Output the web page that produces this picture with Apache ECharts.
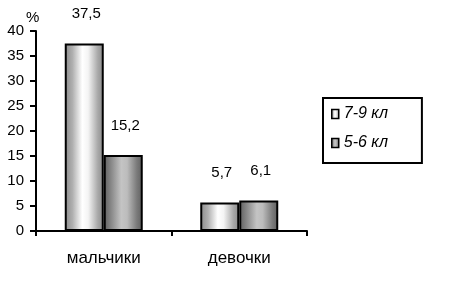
<!DOCTYPE html>
<html>
<head>
<meta charset="utf-8">
<script src="https://cdn.jsdelivr.net/npm/echarts@6/dist/echarts.min.js"></script>
<style>
html,body{margin:0;padding:0;background:#fff;}
#chart{width:471px;height:290px;}
</style>
</head>
<body>
<div id="chart"></div>
<script>
var categories = ['мальчики', 'девочки'];
var seriesNames = ['7-9 кл', '5-6 кл'];
var values79 = [37.5, 5.7];
var values56 = [15.2, 6.1];
var yTicks = [0, 5, 10, 15, 20, 25, 30, 35, 40];

var FONT = 'Liberation Sans, Arial, sans-serif';

function grad(stops) {
  return new echarts.graphic.LinearGradient(0, 0, 1, 0, stops);
}
var grad1 = grad([
  {offset: 0, color: '#8a8a8a'},
  {offset: 0.2, color: '#b0b0b0'},
  {offset: 0.45, color: '#ffffff'},
  {offset: 0.6, color: '#f4f4f4'},
  {offset: 0.85, color: '#a8a8a8'},
  {offset: 1, color: '#8a8a8a'}
]);
var grad2 = grad([
  {offset: 0, color: '#5e5e5e'},
  {offset: 0.2, color: '#8a8a8a'},
  {offset: 0.45, color: '#c4c4c4'},
  {offset: 0.6, color: '#bcbcbc'},
  {offset: 0.85, color: '#7a7a7a'},
  {offset: 1, color: '#5e5e5e'}
]);

function fmt(p) { return String(p.value).replace('.', ','); }

var chart = echarts.init(document.getElementById('chart'), null, {renderer: 'canvas'});
chart.setOption({
  animation: false,
  backgroundColor: '#fff',
  title: {
    text: '%', left: 21, top: 5,
    textStyle: {fontFamily: FONT, fontSize: 15, fontWeight: 'normal', color: '#000'}
  },
  grid: {left: 36, right: 164, top: 31, bottom: 59},
  legend: {
    orient: 'vertical',
    left: 323, top: 98,
    padding: [8, 34, 12, 8],
    itemGap: 13,
    itemWidth: 7, itemHeight: 9,
    itemTextGap: 6,
    icon: 'rect',
    borderColor: '#000', borderWidth: 2,
    itemStyle: {borderColor: '#000', borderWidth: 1.5},
    textStyle: {fontFamily: FONT, fontSize: 16, fontStyle: 'italic', color: '#000'},
    data: seriesNames
  },
  xAxis: {
    type: 'category',
    data: categories,
    axisLine: {lineStyle: {color: '#000', width: 2}},
    axisTick: {show: true, length: 5, lineStyle: {color: '#000', width: 2}},
    axisLabel: {fontFamily: FONT, fontSize: 17, color: '#000', margin: 19},
    splitLine: {show: false}
  },
  yAxis: {
    type: 'value',
    min: 0, max: 40, interval: 5,
    axisLine: {show: true, lineStyle: {color: '#000', width: 2}},
    axisTick: {show: true, length: 6, lineStyle: {color: '#000', width: 2}},
    axisLabel: {fontFamily: FONT, fontSize: 15, color: '#000', margin: 12,
      formatter: function (v) { return yTicks.indexOf(v) >= 0 ? String(v) : ''; }},
    splitLine: {show: false}
  },
  series: [
    {
      name: seriesNames[0], type: 'bar', data: values79,
      barWidth: 39, barGap: '0%',
      itemStyle: {color: grad1, borderColor: '#000', borderWidth: 2},
      label: {show: true, position: 'top', distance: 22, offset: [2, 0],
        formatter: fmt, fontFamily: FONT, fontSize: 15, color: '#000'}
    },
    {
      name: seriesNames[1], type: 'bar', data: values56,
      barWidth: 39,
      itemStyle: {color: grad2, borderColor: '#000', borderWidth: 2},
      label: {show: true, position: 'top', distance: 22, offset: [2, 0],
        formatter: fmt, fontFamily: FONT, fontSize: 15, color: '#000'}
    }
  ]
});
</script>
</body>
</html>
